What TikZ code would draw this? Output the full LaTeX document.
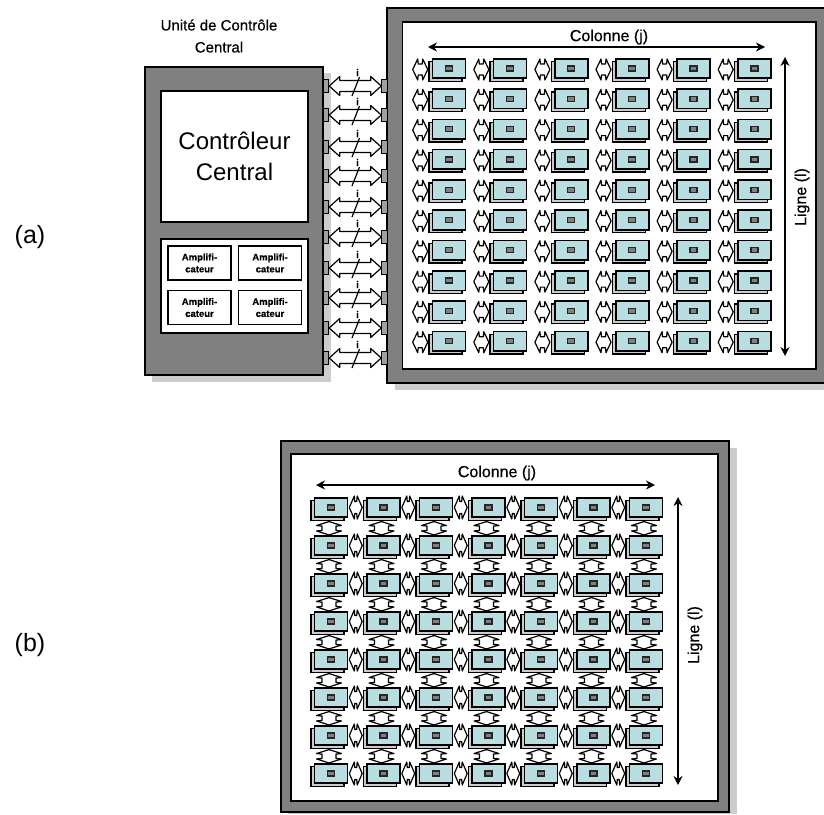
\documentclass[tikz,border=0pt]{standalone}
\usepackage{fontspec}
\setmainfont{Liberation Sans}
\newfontfamily\heavy[FakeBold=0.5]{Liberation Sans}
\usetikzlibrary{calc,arrows.meta,shadows}
\definecolor{cellteal}{HTML}{B8DEE2}
\definecolor{panelgray}{HTML}{808080}
\definecolor{shadowgray}{HTML}{CCCCCC}
\tikzset{
  outline/.style={draw=black,line width=1.4pt},
  shadowfill/.style={fill=shadowgray,draw=none},
  frame/.style={fill=panelgray,draw=none},
  whitebox/.style={outline,fill=white,inner sep=0pt},
  cellbox/.style={draw=black,line width=1.6pt,fill=cellteal,inner sep=0pt,minimum width=33pt,minimum height=19.5pt,
    copy shadow={shadow xshift=-3.5pt,shadow yshift=-3pt,fill=shadowgray,draw=black,line width=1.4pt}},
  chip/.style={draw=black!85,line width=1.3pt,fill=panelgray,inner sep=0pt,minimum width=7pt,minimum height=5pt},
  port/.style={draw=black,line width=1pt,fill=panelgray!75,inner sep=0pt,minimum width=5.5pt,minimum height=13pt},
  hblock/.style n args={4}{draw=black,line width=1.2pt,fill=white,line join=round,to path={
     -- ($(\tikztostart)+(#1,-#2)$) -- ($(\tikztostart)+(#3,-#4)$)
     -- ($(\tikztotarget)+(-#3,-#4)$) -- ($(\tikztotarget)+(-#1,-#2)$)
     -- (\tikztotarget)
     -- ($(\tikztotarget)+(-#1,#2)$) -- ($(\tikztotarget)+(-#3,#4)$)
     -- ($(\tikztostart)+(#3,#4)$) -- ($(\tikztostart)+(#1,#2)$) -- cycle}},
  vblock/.style n args={4}{draw=black,line width=1.2pt,fill=white,line join=round,to path={
     -- ($(\tikztostart)+(-#2,#1)$) -- ($(\tikztostart)+(-#4,#3)$)
     -- ($(\tikztotarget)+(-#4,-#3)$) -- ($(\tikztotarget)+(-#2,-#1)$)
     -- (\tikztotarget)
     -- ($(\tikztotarget)+(#2,-#1)$) -- ($(\tikztotarget)+(#4,-#3)$)
     -- ($(\tikztostart)+(#4,#3)$) -- ($(\tikztostart)+(#2,#1)$) -- cycle}},
  longarrow/.style={draw=black,line width=1.2pt,{Stealth[length=9pt,width=9pt]}-{Stealth[length=9pt,width=9pt]}},
  lbl/.style={inner sep=0pt,font=\heavy\fontsize{16}{18}\selectfont},
  amp/.style={whitebox,minimum width=63pt,minimum height=34pt,align=center,
    font=\heavy\fontsize{9.5}{12}\selectfont\bfseries},
}
\begin{document}
\begin{tikzpicture}[x=1pt,y=-1pt]
\useasboundingbox (0,0) rectangle (824,814);
% ---------- (a) control unit
\fill[shadowfill] (152,73) rectangle (331,382);
\fill[frame] (145,67) rectangle (323,375);
\draw[outline] (145,67) rectangle (323,375);
\node[whitebox,minimum width=147pt,minimum height=131pt,align=center,
  font=\fontsize{24}{31}\selectfont] (ctrl) at (234.5,156.5) {Contrôleur\\Central};
\node[whitebox,minimum width=147pt,minimum height=94pt] (amps) at (234.5,286) {};
\node[amp] (amp1) at (199.5,263) {Amplifi-\\cateur};
\node[amp] (amp2) at (270,263) {Amplifi-\\cateur};
\node[amp] (amp3) at (199.5,307.5) {Amplifi-\\cateur};
\node[amp] (amp4) at (270,307.5) {Amplifi-\\cateur};
\node[inner sep=0pt,align=center,font=\heavy\fontsize{15}{22}\selectfont] (title) at (219,36) {Unité de Contrôle\\Central};
\node[inner sep=0pt,font=\fontsize{25}{28}\selectfont] (la) at (30,237) {(a)};
% ---------- (a) array panel
\fill[shadowfill] (395,16) rectangle (824,390);
\fill[frame] (387,8) rectangle (824,383);
\draw[outline] (824,8) -- (387,8) -- (387,383) -- (824,383);
\draw[outline,fill=white] (402.5,22) rectangle (816,369);
\coordinate (acolL) at (428,47);
\coordinate (acolR) at (765,47);
\draw[longarrow] (acolL) -- (acolR);
\node[lbl] (acol) at (609,37) {Colonne (j)};
\coordinate (alinT) at (785,57);
\coordinate (alinB) at (785,356);
\draw[longarrow] (alinT) -- (alinB);
\node[lbl,rotate=90] (alin) at (802,197) {Ligne (l)};
\foreach \r in {0,...,9} \foreach \c in {0,...,5} {
  \node[cellbox] (aC-\r-\c) at ({449+61.1*\c},{68.5+30.3*\r}) {};
  \node[chip] (aP-\r-\c) at (aC-\r-\c) {};
  \coordinate (aT-\r-\c) at ($(aC-\r-\c.west)+(-19,1)$);
  \coordinate (aE-\r-\c) at ($(aC-\r-\c.west)+(-4,1)$);
  \draw[hblock={5}{10.5}{5.5}{5.5}] (aT-\r-\c) to (aE-\r-\c);
}
% ---------- (a) buses
\foreach \r/\y in {0/86,1/115,2/147,3/176,4/207,5/237,6/268,7/298,8/328,9/358} {
  \node[port] (pL-\r) at (326,\y) {};
  \node[port] (pR-\r) at (384.5,\y) {};
  \draw[hblock={10.5}{9.5}{10.5}{5.5}] (pL-\r.east) to (pR-\r.west);
  \coordinate (sA-\r) at (352,\y+10);
  \coordinate (sB-\r) at (359.5,\y-9);
  \draw[draw=black,line width=1.2pt] (sA-\r) -- (sB-\r);
  \node[inner sep=0pt,font=\heavy\fontsize{10}{10}\selectfont\bfseries] (bi-\r) at (357.5,\y-13.5) {i};
}
% ---------- (b) array panel
\fill[shadowfill] (288,448) rectangle (737,814);
\fill[frame] (281,441) rectangle (729,812);
\draw[outline] (281,441) rectangle (729,812);
\draw[outline,fill=white] (291,454) rectangle (718,801);
\coordinate (bcolL) at (316,485);
\coordinate (bcolR) at (655,485);
\draw[longarrow] (bcolL) -- (bcolR);
\node[lbl] (bcol) at (497,473) {Colonne (j)};
\coordinate (blinT) at (678,497);
\coordinate (blinB) at (678,785);
\draw[longarrow] (blinT) -- (blinB);
\node[lbl,rotate=90] (blin) at (695,635) {Ligne (l)};
\node[inner sep=0pt,font=\fontsize{25}{28}\selectfont] (lb) at (30,645) {(b)};
\foreach \r in {0,...,7} \foreach \c in {0,...,6} {
  \node[cellbox] (bC-\r-\c) at ({331+52.5*\c},{507.5+38*\r}) {};
  \node[chip] (bP-\r-\c) at (bC-\r-\c) {};
}
\foreach \r in {0,...,7} \foreach \c in {0,...,5} {
  \pgfmathtruncatemacro{\n}{\c+1}
  \draw[hblock={5}{11.5}{5.5}{6}] ($(bC-\r-\c.east)+(1,0)$) to ($(bC-\r-\n.west)+(-4,0)$);
}
\foreach \r in {0,...,6} \foreach \c in {0,...,6} {
  \pgfmathtruncatemacro{\n}{\r+1}
  \draw[vblock={4}{12.5}{4.5}{7}] ($(bC-\r-\c.south)+(-2,3.5)$) to ($(bC-\n-\c.north)+(-2,0)$);
}
\end{tikzpicture}
\end{document}
